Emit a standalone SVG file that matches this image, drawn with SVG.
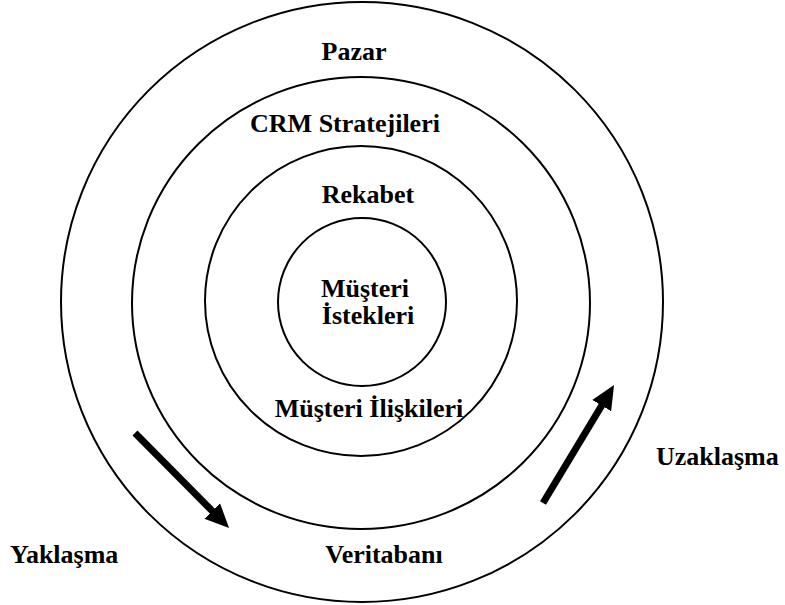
<svg xmlns="http://www.w3.org/2000/svg" width="785" height="605" viewBox="0 0 785 605">
  <style>
    .ring { fill: none; stroke: #000; stroke-width: 2; }
    .lbl { font-family: "Liberation Serif", "Times New Roman", serif; font-weight: bold; font-size: 26px; fill: #000; }
    .mid { text-anchor: middle; }
    .arrow { stroke: #000; stroke-width: 7; fill: none; marker-end: url(#head); }
  </style>
  <defs>
    <marker id="head" markerUnits="userSpaceOnUse" viewBox="0 0 24 24" markerWidth="24" markerHeight="24" refX="8" refY="12" orient="auto">
      <path d="M0,1 L24,12 L0,23 z" fill="#000"/>
    </marker>
  </defs>
  <rect width="785" height="605" fill="#fff"/>

  <g id="pazar">
    <ellipse class="ring" cx="362" cy="302" rx="301" ry="300"/>
    <text class="lbl mid" x="354" y="60">Pazar</text>
  </g>
  <g id="crm-stratejileri">
    <ellipse class="ring" cx="361" cy="303" rx="229" ry="226"/>
    <text class="lbl mid" x="345" y="132">CRM Stratejileri</text>
  </g>
  <g id="rekabet">
    <ellipse class="ring" cx="361" cy="301" rx="156" ry="155"/>
    <text class="lbl mid" x="368" y="203">Rekabet</text>
  </g>
  <g id="musteri-istekleri">
    <ellipse class="ring" cx="362" cy="302" rx="84" ry="84"/>
    <text class="lbl mid" x="365" y="297">Müşteri</text>
    <text class="lbl mid" x="368" y="324">İstekleri</text>
  </g>
  <g id="musteri-iliskileri">
    <text class="lbl mid" x="369" y="417">Müşteri İlişkileri</text>
  </g>
  <g id="veritabani">
    <text class="lbl mid" x="384" y="563">Veritabanı</text>
  </g>
  <g id="yaklasma">
    <text class="lbl" x="10" y="563">Yaklaşma</text>
  </g>
  <g id="uzaklasma">
    <text class="lbl" x="656" y="465">Uzaklaşma</text>
  </g>

  <g id="connectors">
    <line class="arrow" x1="135" y1="433" x2="217.8" y2="516.6"/>
    <line class="arrow" x1="543" y1="503" x2="605.8" y2="398.7"/>
  </g>
</svg>
